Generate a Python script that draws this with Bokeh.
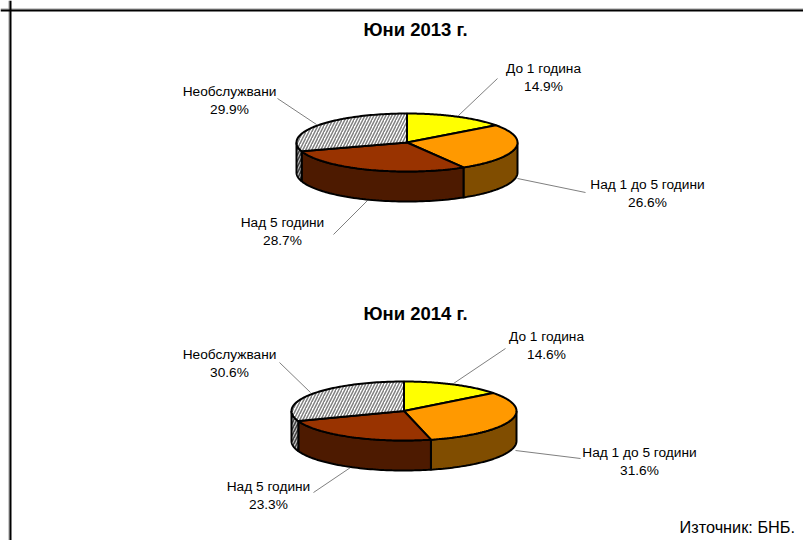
import numpy as np
from bokeh.plotting import figure
from bokeh.models import Range1d, Span
from bokeh.core.properties import value
from bokeh.embed import file_html
from bokeh.resources import INLINE

# ---- data ----
categories = ["До 1 година", "Над 1 до 5 години", "Над 5 години", "Необслужвани"]
values_2013 = [14.9, 26.6, 28.7, 29.9]
values_2014 = [14.6, 31.6, 23.3, 30.6]
titles = ["Юни 2013 г.", "Юни 2014 г."]
source_note = "Източник: БНБ."

# ---- styles ----
FONT = value("Liberation Sans")
top_colors = ["#FFFF00", "#FF9900", "#993300", "#FFFFFF"]
side_colors = ["#808000", "#804D00", "#4D1A00", "#BFBFBF"]
LINE = "#000000"

# ---- layout in picture pixels ----
pies = [
    dict(vals=values_2013, cx=406.5, cy=142, a=110.5, b=29, d=30, title_y=29,
         label_x=[543, 647, 282, 229], label_y=[68, 184, 222, 91],
         leaders=[((497, 78), (458, 115)), ((585, 192), (517, 178)),
                  ((333, 234), (367, 200)), ((277, 98), (316, 124))]),
    dict(vals=values_2014, cx=403.5, cy=410.5, a=112.5, b=29.5, d=30, title_y=313,
         label_x=[546, 639, 268, 229], label_y=[336, 452, 486, 354],
         leaders=[((505, 348), (453, 383)), ((580, 458), (515, 450)),
                  ((313, 492), (350, 467)), ((279, 362), (310, 392))]),
]

p = figure(width=803, height=540, output_backend="svg", toolbar_location=None,
           x_range=Range1d(0, 803), y_range=Range1d(540, 0), min_border=0)
p.axis.visible = False
p.grid.visible = False
p.outline_line_color = None
p.background_fill_color = "#FFFFFF"
p.border_fill_color = "#FFFFFF"

# outer frame
for loc, col, w in [(8.5, "#999999", 1), (10, "#000000", 2)]:
    p.add_layout(Span(location=loc, dimension="height", line_color=col, line_width=w))
    p.add_layout(Span(location=loc, dimension="width", line_color=col, line_width=w))


def pt(g, t, dy=0.0):
    return g["cx"] + g["a"] * np.sin(t), g["cy"] - g["b"] * np.cos(t) + dy


for g in pies:
    edges = np.radians(np.concatenate([[0], np.cumsum(g["vals"])]) / sum(g["vals"]) * 360)

    # leader lines behind the pie
    for (x0, y0), (x1, y1) in g["leaders"]:
        p.line([x0, x1], [y0, y1], line_color="#808080", line_width=1)

    # side wall, visible part only (front half of the ellipse)
    for i in range(4):
        lo, hi = max(edges[i], np.pi / 2), min(edges[i + 1], 3 * np.pi / 2)
        if hi <= lo:
            continue
        t = np.linspace(lo, hi, 60)
        xs, ys = pt(g, t)
        xb, yb = pt(g, t[::-1], g["d"])
        kw = {}
        if i == 3:
            kw = dict(hatch_pattern="right_diagonal_line", hatch_color="#404040",
                      hatch_scale=6, hatch_weight=1.5)
        p.patch(np.r_[xs, xb], np.r_[ys, yb], fill_color=side_colors[i],
                line_color=LINE, line_width=2, **kw)

    # top face
    for i in range(4):
        t = np.linspace(edges[i], edges[i + 1], 80)
        xs, ys = pt(g, t)
        kw = {}
        if i == 3:
            kw = dict(hatch_pattern="right_diagonal_line", hatch_color="#808080",
                      hatch_scale=6, hatch_weight=1.5)
        p.patch(np.r_[g["cx"], xs], np.r_[g["cy"], ys], fill_color=top_colors[i],
                line_color=LINE, line_width=2, **kw)

    # labels
    for i, name in enumerate(categories):
        p.text([g["label_x"][i]], [g["label_y"][i]], text=[name], text_font=FONT,
               text_font_size="13.7px", text_align="center", text_baseline="middle",
               text_color="#000000")
        p.text([g["label_x"][i]], [g["label_y"][i] + 18], text=[f'{g["vals"][i]}%'], text_font=FONT,
               text_font_size="13.7px", text_align="center", text_baseline="middle",
               text_color="#000000")

for title, g in zip(titles, pies):
    p.text([415], [g["title_y"]], text=[title], text_font=FONT, text_font_size="18.5px",
           text_font_style="bold", text_align="center", text_baseline="middle",
           text_color="#000000")

p.text([679], [526], text=[source_note], text_font=FONT, text_font_size="16.3px",
       text_align="left", text_baseline="middle", text_color="#000000")

open("out.html", "w").write(file_html(p, INLINE))
